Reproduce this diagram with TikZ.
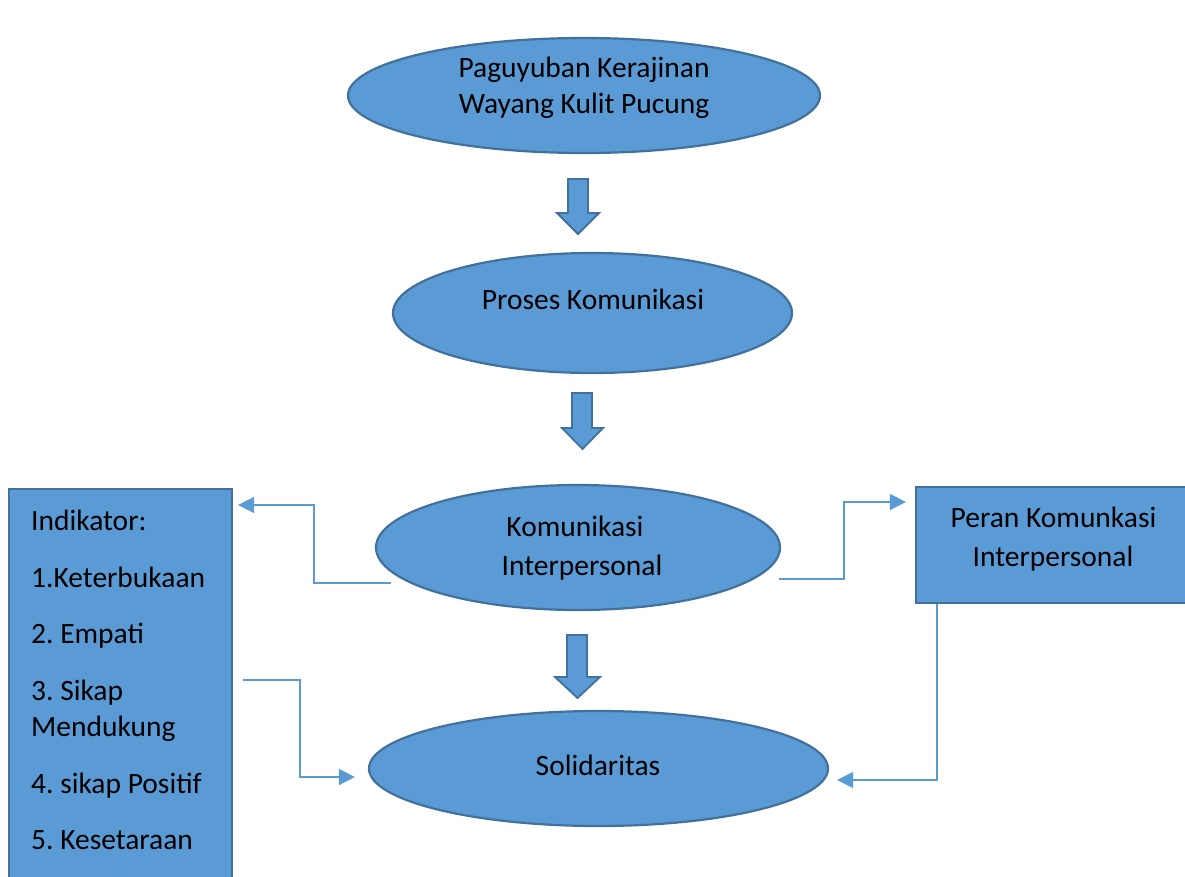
\documentclass[tikz,border=0pt]{standalone}
\usepackage{fontspec}
\setmainfont{Carlito}
\frenchspacing
\usetikzlibrary{shapes.geometric,arrows.meta}
\definecolor{fillblue}{HTML}{5B9BD5}
\definecolor{edgeblue}{HTML}{41719C}
\definecolor{linkblue}{HTML}{5B9BD5}
\tikzset{
  ell/.style={ellipse, fill=fillblue, draw=edgeblue, line width=2.2pt, inner sep=0pt},
  boxx/.style={rectangle, fill=fillblue, draw=edgeblue, line width=2.2pt, inner sep=0pt},
  txt/.style={font=\fontsize{29.5}{36}\selectfont\frenchspacing, inner sep=0pt, anchor=base},
  ltxt/.style={txt, anchor=base west},
  conn/.style={draw=linkblue, line width=1.4pt, -{Triangle[length=16pt,width=16pt]}},
  blockarrow/.style={fill=fillblue, draw=edgeblue, line width=1.8pt, line join=miter}
}
\begin{document}
\begin{tikzpicture}[x=1pt,y=-1pt]
\useasboundingbox (0,0) rectangle (1185,876);
\clip (0,0) rectangle (1185,876);
\fill[white] (0,0) rectangle (1185,876);

% ellipses
\node[ell, minimum width=472pt, minimum height=115pt] (e1) at (584,95.5) {};
\node[ell, minimum width=399pt, minimum height=120pt] (e2) at (592.5,313) {};
\node[ell, minimum width=404pt, minimum height=125pt] (e3) at (578,547.5) {};
\node[ell, minimum width=459pt, minimum height=115pt] (e4) at (598.5,768.5) {};

% boxes
\node[boxx, minimum width=223pt, minimum height=420pt] (lbox) at (120.5,699) {};
\node[boxx, minimum width=290pt, minimum height=116pt] (rbox) at (1061,545) {};

% texts
\node[txt] (t1a) at (584,77) {Paguyuban Kerajinan};
\node[txt] (t1b) at (584,113) {Wayang Kulit Pucung};
\node[txt] (t2) at (593,309) {Proses Komunikasi};
\node[txt] (t3a) at (575,536) {Komunikasi};
\node[txt] (t3b) at (582,575) {Interpersonal};
\node[txt] (t4) at (598,775) {Solidaritas};
\node[txt] (r1) at (1053.5,527) {Peran Komunkasi};
\node[txt] (r2) at (1053,566) {Interpersonal};
\node[ltxt] (l1) at (31,530) {Indikator:};
\node[ltxt] (l2) at (31,587) {1.Keterbukaan};
\node[ltxt] (l3) at (31,643) {2. Empati};
\node[ltxt] (l4) at (31,700) {3. Sikap};
\node[ltxt] (l5) at (31,736) {Mendukung};
\node[ltxt] (l6) at (31,793) {4. sikap Positif};
\node[ltxt] (l7) at (31,849) {5. Kesetaraan};

% block arrows
\draw[blockarrow] (568,179) -- (588,179) -- (588,213) -- (599,213) -- (578,234) -- (557,213) -- (568,213) -- cycle;
\draw[blockarrow] (572,393) -- (592,393) -- (592,428) -- (603,428) -- (582.5,449) -- (562,428) -- (572,428) -- cycle;
\draw[blockarrow] (567,635) -- (587,635) -- (587,677) -- (600,677) -- (577.5,698) -- (555,677) -- (567,677) -- cycle;

% connectors
\coordinate (c1) at (391,583);
\coordinate (c2) at (779,579);
\coordinate (c3) at (243,680);
\draw[conn] (c1) -| (314,505) -- ([xshift=5pt]lbox.east |- 0,505);
\draw[conn] (c2) -| (844,502) -- ([xshift=-9pt]rbox.west |- 0,502);
\draw[conn] (c3) -| (300,777) -- ([xshift=-13pt]e4.west |- 0,777);
\draw[conn] (rbox.south -| 937,0) |- ([xshift=8pt]e4.east |- 0,780);
\end{tikzpicture}
\end{document}
